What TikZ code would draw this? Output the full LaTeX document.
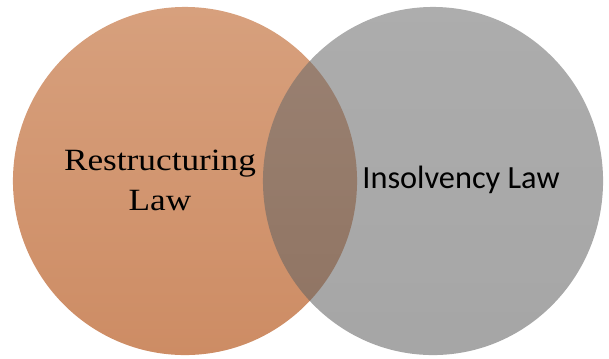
\documentclass[tikz,border=0pt]{standalone}
\usepackage{fontspec}
\usepackage{xcolor}
\usepackage{tikz}
\usetikzlibrary{shapes.geometric}
\newfontfamily\restructserif[FakeStretch=1.14]{Liberation Serif}
\newfontfamily\insolvsans{Carlito}
\definecolor{orangetop}{RGB}{215,160,125}
\definecolor{orangebottom}{RGB}{205,140,100}
\definecolor{graytop}{RGB}{108,108,108}
\definecolor{graybottom}{RGB}{96,96,96}
\tikzset{
ellipsenodeorange/.style={ellipse, draw=none, top color=orangetop, bottom color=orangebottom, inner sep=0pt, minimum width= 8.6cm, minimum height = 8.7cm},
ellipsenodegray/.style={ellipse, draw=none, top color=graytop, bottom color=graybottom, fill opacity=0.56, inner sep=0pt, minimum width= 8.5cm, minimum height = 8.7cm},
lawtextv1/.style={align=center, inner sep=0pt, text=black, font=\restructserif\fontsize{22}{28.5}\selectfont},
lawtextv2/.style={align=center, inner sep=0pt, text=black, font=\insolvsans\fontsize{23}{27}\selectfont},
}
\begin{document}
\begin{tikzpicture}[x=0.025cm, y=-0.025cm]
    \useasboundingbox (0,0) rectangle (609,358);
    \node[ellipsenodeorange] at (185,181) (restructuring) {};
    \node[ellipsenodegray] at (433,181) (insolvency) {};
    \node[lawtextv1] at (160,180) (restructuringlabel) {Restructuring\\Law};
    \node[lawtextv2, anchor=base] at (461,188) (insolvencylabel) {Insolvency Law};
\end{tikzpicture}
\end{document}
